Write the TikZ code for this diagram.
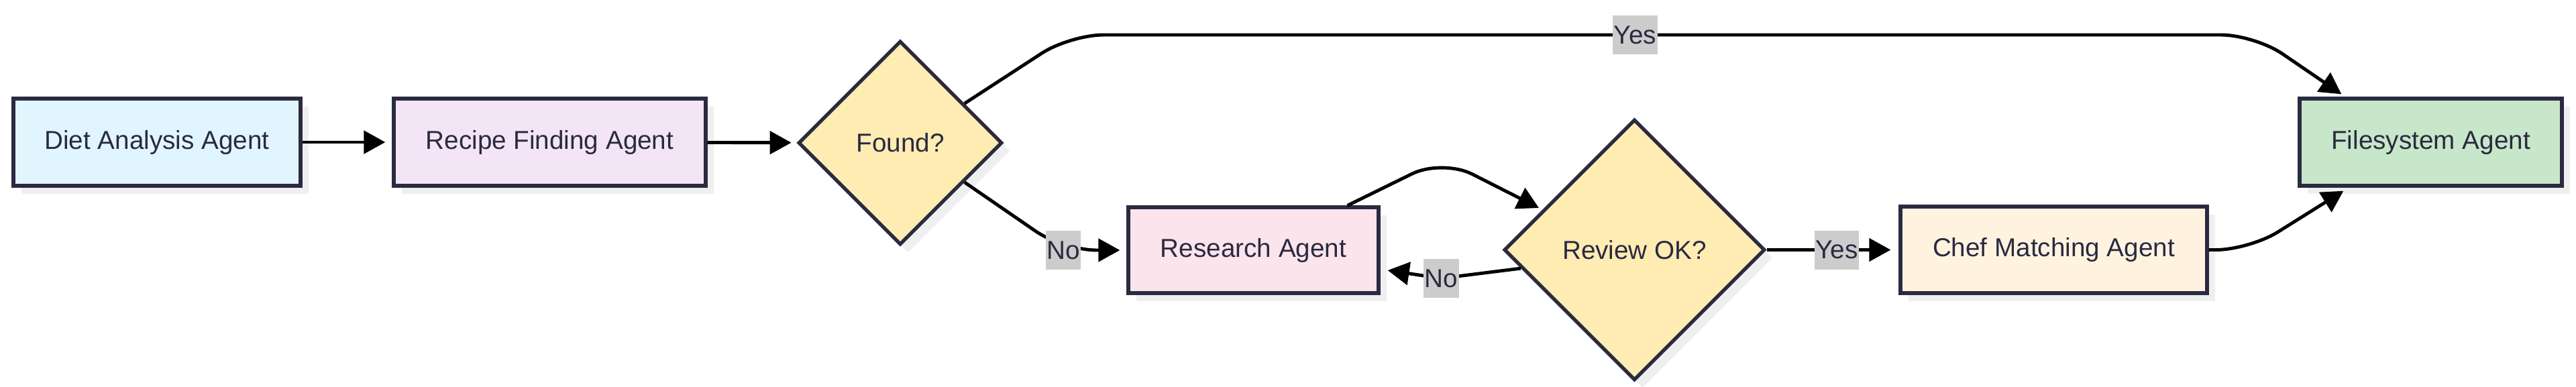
\documentclass[tikz,border=0pt]{standalone}
\usepackage{fontspec}
\setmainfont{Liberation Sans}
\usepackage{xcolor}
\usepackage{tikz}
\usetikzlibrary{positioning,arrows.meta,calc,shapes.geometric,shadows}
\definecolor{ink}{HTML}{2A2A40}
\definecolor{dietblue}{HTML}{E1F5FE}
\definecolor{recipepurple}{HTML}{F3E5F5}
\definecolor{askyellow}{HTML}{FFECB3}
\definecolor{researchpink}{HTML}{FCE4EC}
\definecolor{chefcream}{HTML}{FFF3E0}
\definecolor{filesgreen}{HTML}{C8E6C9}
\definecolor{shade}{HTML}{EFEFEF}
\definecolor{tag}{HTML}{CCCCCC}

\begin{document}
\begin{tikzpicture}[
  every node/.style={font=\fontsize{11}{13}\selectfont,text=ink},
  agent/.style={draw=ink,line width=1.5pt,align=center,minimum height=1.3cm,inner sep=0pt,
    drop shadow={shadow xshift=0.12cm,shadow yshift=-0.12cm,fill=shade,opacity=1}},
  decision/.style={agent,diamond,aspect=1,minimum size=3.04cm},
  arrow/.style={-{Triangle[length=0.32cm,width=0.34cm]},line width=1.4pt,rounded corners=0.5cm},
  lbl/.style={sharp corners,fill=tag,inner xsep=0.5pt,inner ysep=0pt,minimum height=0.58cm}
]
  \useasboundingbox (0,0) rectangle (38.4,-5.76);
  \node[agent,fill=dietblue,minimum width=4.28cm] (diet) at (2.34,-2.12) {Diet Analysis Agent};
  \node[agent,fill=recipepurple,minimum width=4.65cm] (recipe) at (8.195,-2.12) {Recipe Finding Agent};
  \node[decision,fill=askyellow] (found) at (13.42,-2.13) {Found?};
  \node[agent,fill=researchpink,minimum width=3.73cm,minimum height=1.28cm] (research) at (18.685,-3.73) {Research Agent};
  \node[decision,fill=askyellow,minimum size=3.89cm] (review) at (24.365,-3.725) {Review OK?};
  \node[agent,fill=chefcream,minimum width=4.57cm,minimum height=1.29cm] (chef) at (30.615,-3.725) {Chef Matching Agent};
  \node[agent,fill=filesgreen,minimum width=3.91cm] (files) at (36.235,-2.12) {Filesystem Agent};
  \draw[arrow,shorten >=0.1cm] (diet) -- (recipe);
  \draw[arrow,shorten >=0.08cm] (recipe) -- (found);
  % found: yes over the top, no down to research
  \draw[arrow] ($(found.north)!0.62!(found.east)$) -- (15.95,-0.52)
    -- node[lbl,pos=0.477] (yes1) {Yes} (33.61,-0.52) -- ($(files.north west)+(0.65,0.04)$);
  \draw[arrow,shorten >=0.1cm] ($(found.south)!0.62!(found.east)$) -- (15.85,-3.73)
    node[lbl] (no1) {No} -- (research.west);
  \draw[arrow] ($(research.north east)+(-0.49,0)$) -- (21.5,-2.37) -- (22.94,-3.1);
  \draw[arrow,rounded corners=0.3cm] ($(review.west)!0.14!(review.south)$) -- (21.48,-4.15)
    node[lbl] (no2) {No} -- ($(research.east)+(0.11,-0.3)$);
  \draw[arrow,shorten >=0.12cm] (review) -- node[lbl,pos=0.53] (yes2) {Yes} (chef);
  \draw[arrow] (chef.east) -- (33.53,-3.725) -- ($(files.south west)+(0.68,-0.05)$);
\end{tikzpicture}
\end{document}
